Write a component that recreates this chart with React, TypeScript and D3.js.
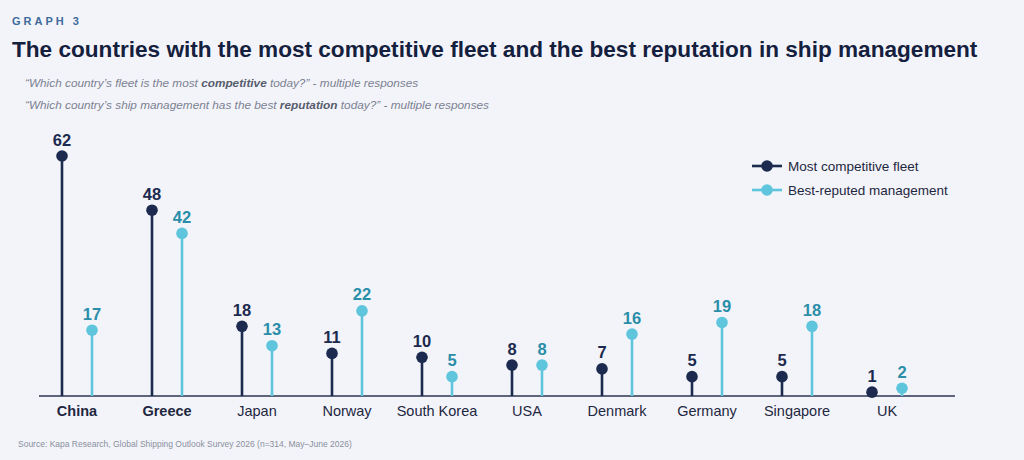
import React, { useEffect, useRef } from 'react';
import * as d3 from 'd3';

const countries = ['China', 'Greece', 'Japan', 'Norway', 'South Korea', 'USA', 'Denmark', 'Germany', 'Singapore', 'UK'];
const fleetValues = [62, 48, 18, 11, 10, 8, 7, 5, 5, 1];
const reputationValues = [17, 42, 13, 22, 5, 8, 16, 19, 18, 2];
const boldCountries = ['China', 'Greece'];
const seriesNames = ['Most competitive fleet', 'Best-reputed management'];

const DARK = '#1b2a4e';
const LIGHT = '#5ec5dd';
const LIGHT_TEXT = '#2a8ea8';
const FONT = '"Liberation Sans", Arial, sans-serif';

const App: React.FC = () => {
  const ref = useRef<SVGSVGElement>(null);

  useEffect(() => {
    if (!ref.current) return;
    document.body.style.margin = '0';
    const svg = d3.select(ref.current);
    svg.selectAll('*').remove();

    const W = 1024;
    const H = 460;
    svg.attr('width', W).attr('height', H).style('display', 'block').style('font-family', FONT);

    svg.append('rect').attr('width', W).attr('height', H).attr('fill', '#f3f4fa');

    // header
    svg.append('text')
      .attr('x', 12).attr('y', 25)
      .attr('font-size', 11).attr('font-weight', 'bold')
      .attr('letter-spacing', '3px')
      .attr('fill', '#3d6b9b')
      .text('GRAPH 3');

    svg.append('text')
      .attr('x', 12).attr('y', 57)
      .attr('font-size', 22.6).attr('font-weight', 'bold')
      .attr('fill', '#14203d')
      .text('The countries with the most competitive fleet and the best reputation in ship management');

    const sub1 = svg.append('text')
      .attr('x', 25).attr('y', 87)
      .attr('font-size', 11.8).attr('font-style', 'italic').attr('fill', '#7b8191');
    sub1.append('tspan').text('\u201CWhich country\u2019s fleet is the most ');
    sub1.append('tspan').attr('font-weight', 'bold').attr('fill', '#565c6c').text('competitive');
    sub1.append('tspan').text(' today?\u201D - multiple responses');

    const sub2 = svg.append('text')
      .attr('x', 25).attr('y', 109)
      .attr('font-size', 11.8).attr('font-style', 'italic').attr('fill', '#7b8191');
    sub2.append('tspan').text('\u201CWhich country\u2019s ship management has the best ');
    sub2.append('tspan').attr('font-weight', 'bold').attr('fill', '#565c6c').text('reputation');
    sub2.append('tspan').text(' today?\u201D - multiple responses');

    // scales
    const x = d3.scaleBand<string>().domain(countries).range([32, 932]);
    const y = d3.scaleLinear().domain([0, 62]).range([396, 156]);
    const off = 15;
    const cx = (c: string) => (x(c) as number) + x.bandwidth() / 2;

    const g = svg.append('g');

    // baseline
    g.append('line')
      .attr('x1', 39).attr('x2', 955)
      .attr('y1', y(0)).attr('y2', y(0))
      .attr('stroke', '#2b3550').attr('stroke-width', 1.3);

    const series = [
      { values: fleetValues, dx: -off, color: DARK, textColor: DARK },
      { values: reputationValues, dx: off, color: LIGHT, textColor: LIGHT_TEXT },
    ];

    series.forEach((s) => {
      const data = countries.map((c, i) => ({ c, v: s.values[i] }));
      g.selectAll(null)
        .data(data)
        .enter()
        .append('line')
        .attr('x1', (d) => cx(d.c) + s.dx).attr('x2', (d) => cx(d.c) + s.dx)
        .attr('y1', y(0)).attr('y2', (d) => y(d.v))
        .attr('stroke', s.color).attr('stroke-width', 2.6);

      g.selectAll(null)
        .data(data)
        .enter()
        .append('circle')
        .attr('cx', (d) => cx(d.c) + s.dx)
        .attr('cy', (d) => y(d.v))
        .attr('r', 5.8)
        .attr('fill', s.color);

      g.selectAll(null)
        .data(data)
        .enter()
        .append('text')
        .attr('x', (d) => cx(d.c) + s.dx)
        .attr('y', (d) => y(d.v) - 10.5)
        .attr('text-anchor', 'middle')
        .attr('font-size', 16.5).attr('font-weight', 'bold')
        .attr('fill', s.textColor)
        .text((d) => d.v);
    });

    // category labels
    g.selectAll(null)
      .data(countries)
      .enter()
      .append('text')
      .attr('x', (d) => cx(d))
      .attr('y', 416)
      .attr('text-anchor', 'middle')
      .attr('font-size', 14.5)
      .attr('font-weight', (d) => (boldCountries.includes(d) ? 'bold' : 'normal'))
      .attr('fill', '#1e2740')
      .text((d) => d);

    // legend
    const legend = svg.append('g').attr('transform', 'translate(752,166)');
    [DARK, LIGHT].forEach((color, i) => {
      const row = legend.append('g').attr('transform', `translate(0,${i * 24})`);
      row.append('line').attr('x1', 0).attr('x2', 30).attr('y1', 0).attr('y2', 0)
        .attr('stroke', color).attr('stroke-width', 2.6);
      row.append('circle').attr('cx', 15).attr('cy', 0).attr('r', 5.8).attr('fill', color);
      row.append('text').attr('x', 36).attr('y', 4.8)
        .attr('font-size', 13.5).attr('fill', '#1e2740')
        .text(seriesNames[i]);
    });

    // source
    svg.append('text')
      .attr('x', 18).attr('y', 447)
      .attr('font-size', 8.5).attr('fill', '#8a8f9c')
      .text('Source: Kapa Research, Global Shipping Outlook Survey 2026 (n=314, May\u2013June 2026)');
  }, []);

  return <svg ref={ref}></svg>;
};

export default App;
